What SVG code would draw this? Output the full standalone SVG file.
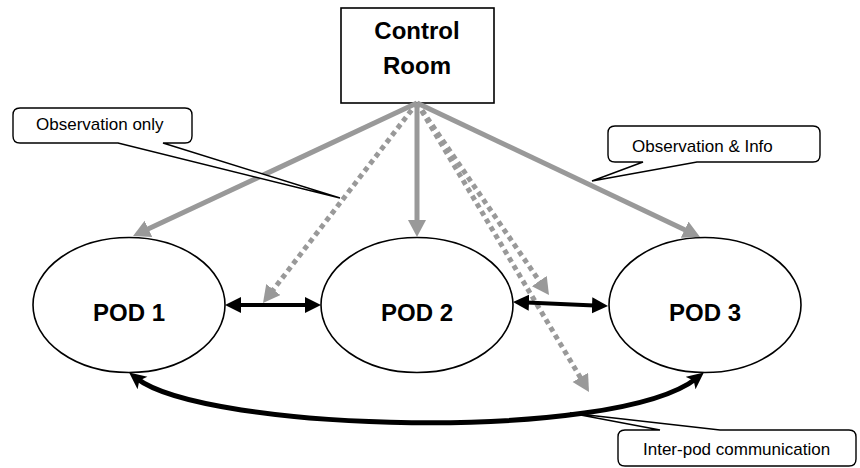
<svg xmlns="http://www.w3.org/2000/svg" width="860" height="468" viewBox="0 0 860 468">
<style>
.node{fill:#fff;stroke:#000;stroke-width:1.6}
.title{font-family:"Liberation Sans",Arial,sans-serif;font-weight:bold;font-size:24px;fill:#000;text-anchor:middle}
.lbl{font-family:"Liberation Sans",Arial,sans-serif;font-size:17px;fill:#000}
.callout{fill:#fff;stroke:#000;stroke-width:1.4;stroke-linejoin:miter}
.gs{fill:none;stroke:#999;stroke-width:5}
.gd{fill:none;stroke:#999;stroke-width:5;stroke-dasharray:5 4}
.bk{fill:none;stroke:#000;stroke-width:4}
.bc{fill:none;stroke:#000;stroke-width:5}
</style>
<defs>
<marker id="ga" markerUnits="userSpaceOnUse" markerWidth="20" markerHeight="20" refX="7" refY="9" orient="auto" viewBox="0 0 20 20">
<path d="M0,0 L17,9 L0,18 z" fill="#999"/>
</marker>
<marker id="ba" markerUnits="userSpaceOnUse" markerWidth="18" markerHeight="18" refX="8" refY="8" orient="auto-start-reverse" viewBox="0 0 18 18">
<path d="M0,0 L16,8 L0,16 z" fill="#000"/>
</marker>
<marker id="ca" markerUnits="userSpaceOnUse" markerWidth="20" markerHeight="20" refX="8" refY="8" orient="auto-start-reverse" viewBox="0 0 20 20">
<path d="M0,0 L17,8 L0,16 L4,8 z" fill="#000"/>
</marker>
</defs>

<g id="control-room">
<rect class="node" x="341" y="8" width="153" height="95"/>
<text class="title" x="417" y="39">Control</text>
<text class="title" x="417" y="74">Room</text>
</g>

<g id="pod1">
<ellipse class="node" cx="129" cy="305" rx="96" ry="67.5"/>
<text class="title" x="129" y="321">POD 1</text>
</g>
<g id="pod2">
<ellipse class="node" cx="417" cy="305" rx="96" ry="67.5"/>
<text class="title" x="417" y="321">POD 2</text>
</g>
<g id="pod3">
<ellipse class="node" cx="705" cy="305" rx="96" ry="67.5"/>
<text class="title" x="705" y="321">POD 3</text>
</g>

<g id="connectors">
<line class="gs" x1="417" y1="103" x2="142.1" y2="231.8" marker-end="url(#ga)"/>
<line class="gs" x1="417" y1="103" x2="417" y2="227" marker-end="url(#ga)"/>
<line class="gs" x1="417" y1="103" x2="691" y2="232.7" marker-end="url(#ga)"/>
<line class="gd" x1="417" y1="103" x2="269.1" y2="295.1" marker-end="url(#ga)"/>
<line class="gd" x1="417" y1="103" x2="543.3" y2="286.8" marker-end="url(#ga)"/>
<line class="gd" x1="417" y1="103" x2="583.9" y2="383.4" marker-end="url(#ga)"/>
<line class="bk" x1="233" y1="305" x2="313" y2="305" marker-start="url(#ba)" marker-end="url(#ba)"/>
<line class="bk" x1="521" y1="302.3" x2="600" y2="305.7" marker-start="url(#ba)" marker-end="url(#ba)"/>
<path class="bc" d="M136.2,378 C205,432 615,443 696.8,378.1" marker-start="url(#ca)" marker-end="url(#ca)"/>
</g>

<g id="callout-observation-only">
<path class="callout" d="M20,108 H185 Q192,108 192,115 V136 Q192,143 185,143 H163 L340,198 L118,143 H20 Q13,143 13,136 V115 Q13,108 20,108 Z"/>
<text class="lbl" x="36" y="130">Observation only</text>
</g>
<g id="callout-observation-info">
<path class="callout" d="M615,126 H813 Q820,126 820,133 V155 Q820,162 813,162 H697 L592,181 L643,162 H615 Q608,162 608,155 V133 Q608,126 615,126 Z"/>
<text class="lbl" x="632" y="152">Observation &amp; Info</text>
</g>
<g id="callout-inter-pod">
<path class="callout" d="M625,430 H660 L570,413 L720,430 H849 Q856,430 856,437 V459 Q856,466 849,466 H625 Q618,466 618,459 V437 Q618,430 625,430 Z"/>
<text class="lbl" x="643" y="455">Inter-pod communication</text>
</g>
</svg>
